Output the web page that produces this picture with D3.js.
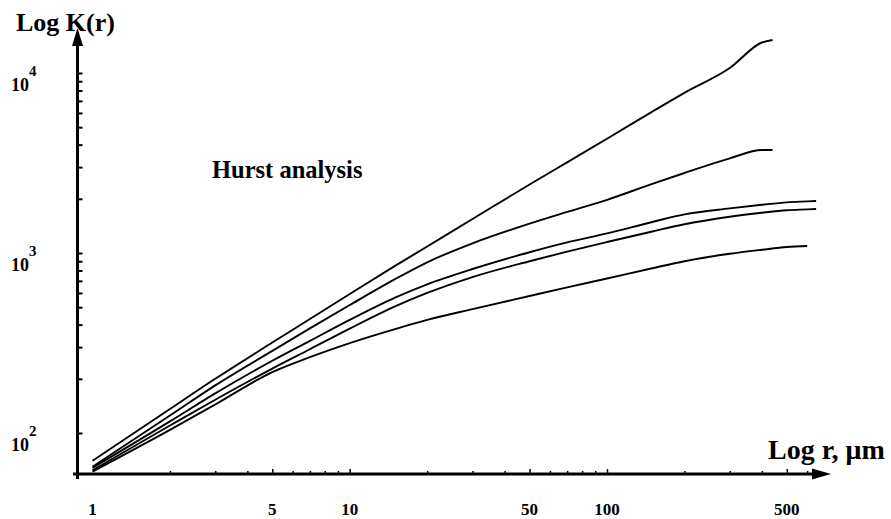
<!DOCTYPE html>
<html>
<head>
<meta charset="utf-8">
<script src="https://cdn.jsdelivr.net/npm/d3@7"></script>
<style>
  body { margin: 0; background: #fff; }
  svg text { font-family: "Times New Roman", "Liberation Serif", serif; font-weight: bold; fill: #000; }
</style>
</head>
<body>
<svg id="chart" width="891" height="519"></svg>
<script>
// r values (micrometres) at which each curve was read
var rA = [1, 2, 3, 5, 7, 10, 15, 20, 30, 50, 70, 100, 150, 200, 300, 400, 440];
var kA = [70, 136, 200, 318, 430, 592, 848, 1087, 1545, 2403, 3190, 4310, 6104, 7762, 10660, 14770, 15250];

var rB = [1, 2, 3, 5, 7, 10, 15, 20, 30, 50, 70, 100, 150, 200, 300, 400, 440];
var kB = [65, 125, 184, 286, 381, 514, 716, 888, 1132, 1457, 1692, 1975, 2421, 2782, 3358, 3734, 3734];

var rC = [1, 2, 3, 5, 7, 10, 15, 20, 30, 50, 70, 100, 150, 200, 300, 400, 500, 600, 650];
var kC = [64, 116, 166, 252, 325, 425, 565, 670, 815, 1010, 1145, 1285, 1487, 1639, 1769, 1853, 1912, 1935, 1945];

var rD = [1, 2, 3, 5, 7, 10, 15, 20, 30, 50, 70, 100, 150, 200, 300, 400, 500, 600, 650];
var kD = [62, 110, 153, 228, 292, 380, 505, 600, 735, 900, 1018, 1151, 1317, 1444, 1591, 1673, 1727, 1747, 1756];

var rE = [1, 2, 3, 5, 7, 10, 15, 20, 30, 50, 70, 100, 150, 200, 300, 400, 500, 600];
var kE = [61, 104, 144, 218, 264, 316, 378, 425, 488, 577, 644, 722, 823, 900, 990, 1042, 1080, 1094];

var xLabels = [1, 5, 10, 50, 100, 500];
var xMinor = [2, 3, 4, 6, 7, 8, 9, 20, 30, 40, 60, 70, 80, 90, 200, 300, 400, 600];
var yMajor = [100, 1000, 10000];
var yMinor = [200, 300, 400, 500, 600, 700, 800, 900, 2000, 3000, 4000, 5000, 6000, 7000, 8000, 9000];
var yExp = [2, 3, 4];

var svg = d3.select('#chart');

var x = d3.scaleLog().domain([1, 100]).range([92.5, 607]);
var y = d3.scaleLog().domain([100, 10000]).range([433, 73]);

var axisY = 474, axisX = 77.5;

// x ticks (pointing up, inside)
svg.append('g')
    .attr('transform', 'translate(0,' + axisY + ')')
    .call(d3.axisTop(x).tickValues(xMinor).tickSize(3).tickFormat(''))
    .call(function(g) { g.select('.domain').remove(); })
    .selectAll('line').attr('stroke', '#000').attr('stroke-width', 1.5);

svg.append('g')
    .attr('transform', 'translate(0,' + axisY + ')')
    .call(d3.axisTop(x).tickValues(xLabels.slice(1)).tickSize(5).tickFormat(''))
    .call(function(g) { g.select('.domain').remove(); })
    .selectAll('line').attr('stroke', '#000').attr('stroke-width', 1.5);

// y ticks (pointing right, inside)
svg.append('g')
    .attr('transform', 'translate(' + axisX + ',0)')
    .call(d3.axisRight(y).tickValues(yMajor.concat(yMinor)).tickSize(5).tickFormat(''))
    .call(function(g) { g.select('.domain').remove(); })
    .selectAll('line').attr('stroke', '#000').attr('stroke-width', 2);

// axis lines with arrows
svg.append('line').attr('x1', axisX).attr('y1', 479).attr('x2', axisX).attr('y2', 40)
    .attr('stroke', '#000').attr('stroke-width', 3);
svg.append('path').attr('d', 'M' + axisX + ',28 L' + (axisX - 5.5) + ',46 L' + (axisX + 5.5) + ',46 Z')
    .attr('fill', '#000');
svg.append('line').attr('x1', 73).attr('y1', axisY).attr('x2', 820).attr('y2', axisY)
    .attr('stroke', '#000').attr('stroke-width', 3);
svg.append('path').attr('d', 'M831,' + axisY + ' L812,' + (axisY - 5.5) + ' L812,' + (axisY + 5.5) + ' Z')
    .attr('fill', '#000');

// x tick labels
svg.selectAll('.xlab').data(xLabels).enter().append('text')
    .attr('class', 'xlab')
    .attr('x', function(d) { return x(d); })
    .attr('y', 515)
    .attr('text-anchor', 'middle')
    .style('font-size', '17px')
    .text(function(d) { return d; });

// y tick labels 10^n
var yl = svg.selectAll('.ylab').data(yExp).enter().append('text')
    .attr('class', 'ylab')
    .attr('x', 11)
    .attr('y', function(d) { return y(Math.pow(10, d)) + 18; })
    .style('font-size', '18px');
yl.append('tspan').text('10');
yl.append('tspan').attr('dy', -15).style('font-size', '15px').text(function(d) { return d; });

// titles
svg.append('text').attr('x', 16).attr('y', 31).style('font-size', '26px').text('Log K(r)');
svg.append('text').attr('x', 768).attr('y', 459).style('font-size', '28px').text('Log r, \u03bcm');
svg.append('text').attr('x', 212).attr('y', 178).style('font-size', '24.5px').text('Hurst analysis');

// curves
var series = [[rA, kA], [rB, kB], [rC, kC], [rD, kD], [rE, kE]];
var line = d3.line()
    .x(function(d) { return x(d[0]); })
    .y(function(d) { return y(d[1]); })
    .curve(d3.curveMonotoneX);

svg.selectAll('.curve').data(series).enter().append('path')
    .attr('class', 'curve')
    .attr('d', function(s) { return line(d3.zip(s[0], s[1])); })
    .attr('fill', 'none')
    .attr('stroke', '#000')
    .attr('stroke-width', 1.9);
</script>
</body>
</html>
